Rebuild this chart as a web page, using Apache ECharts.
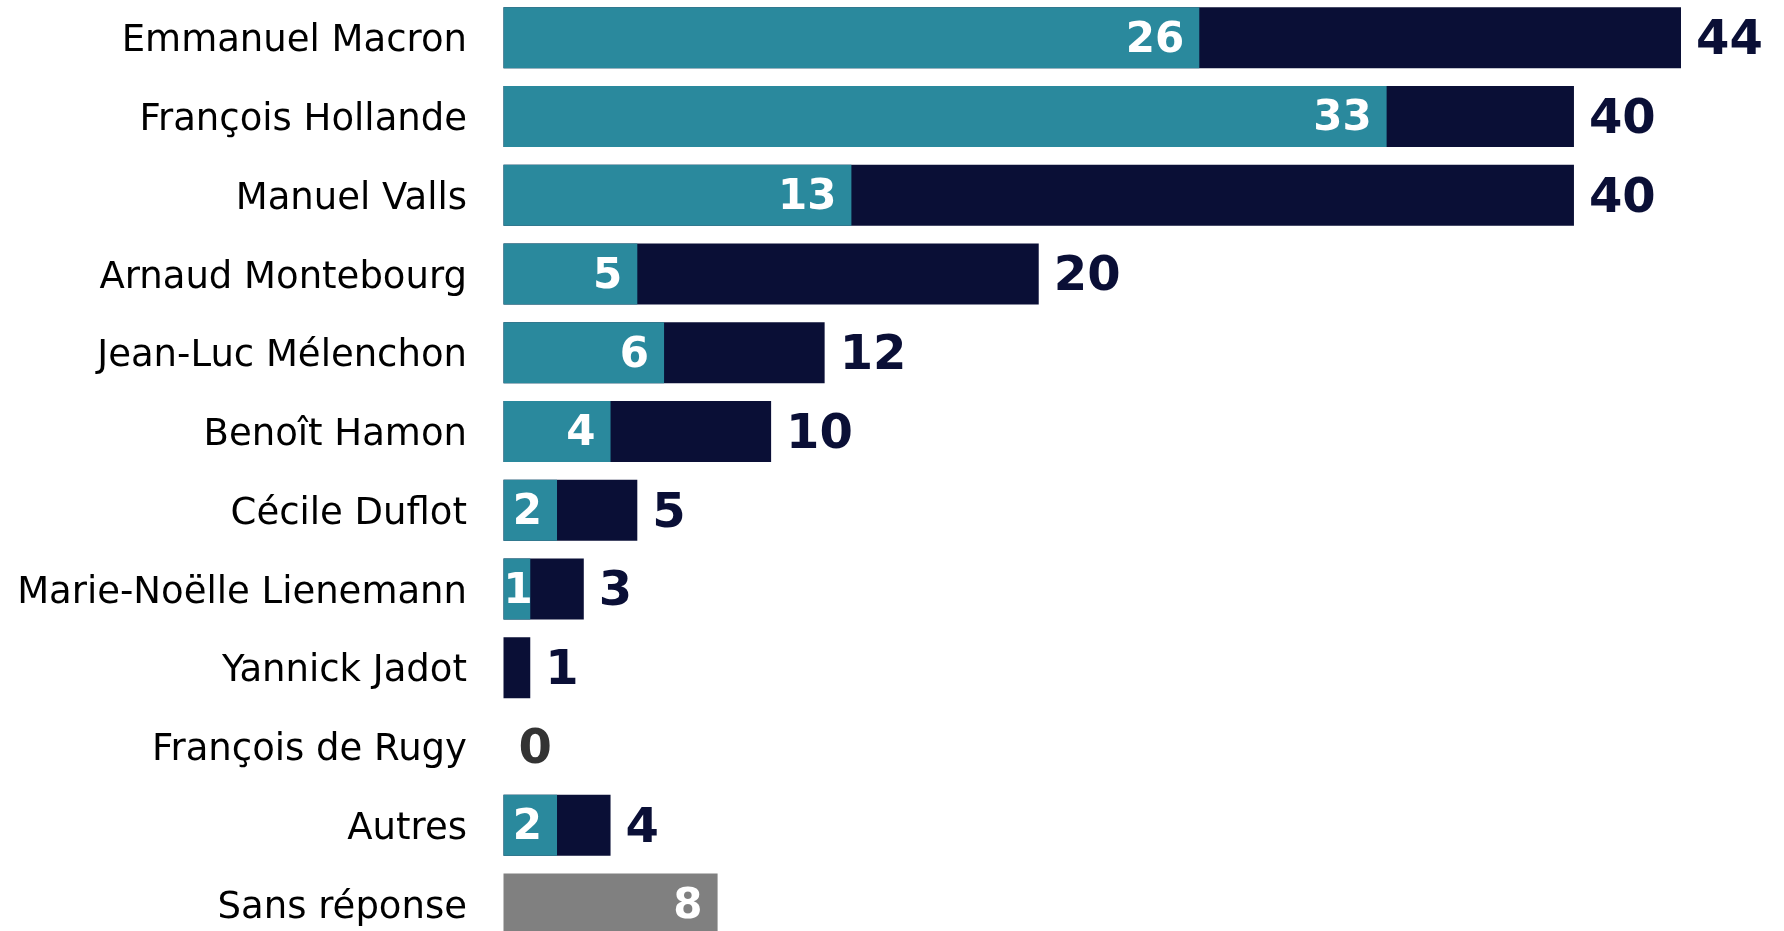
<!DOCTYPE html>
<html>
<head>
<meta charset="utf-8">
<script src="https://cdn.jsdelivr.net/npm/echarts@6/dist/echarts.min.js"></script>
<style>
html,body{margin:0;padding:0;background:#fff;}
#chart{width:1784px;height:931px;}
</style>
</head>
<body>
<div id="chart"></div>
<script>
const categories = ["Emmanuel Macron","François Hollande","Manuel Valls","Arnaud Montebourg","Jean-Luc Mélenchon","Benoît Hamon","Cécile Duflot","Marie-Noëlle Lienemann","Yannick Jadot","François de Rugy","Autres","Sans réponse"];
const totals = [44,40,40,20,12,10,5,3,1,0,4,8];
const firstChoice = [26,33,13,5,6,4,2,1,0,0,2,null];
const noAnswerIndex = 11;

const TEAL = '#2A899D', NAVY = '#0A0F36', GREY = '#808080';
const FONT = 'DejaVu Sans';

const totalData = totals.map((v, i) => {
  if (i === noAnswerIndex) {
    return { value: v, itemStyle: { color: GREY },
      label: { position: 'insideRight', distance: 15, color: '#fff', fontSize: 42, offset: [0, 3] } };
  }
  if (v === 0) return { value: v, label: { color: '#333333' } };
  return v;
});
const tealData = firstChoice.map(v => {
  if (v === null) return null;
  if (v === 0) return { value: v, label: { show: false } };
  if (v <= 1) return { value: v, label: { position: 'insideLeft', distance: 0 } };
  return v;
});

const chart = echarts.init(document.getElementById('chart'), null, {renderer: 'canvas'});
chart.setOption({
  animation: false,
  backgroundColor: '#fff',
  grid: { left: 503.5, top: -1.7, width: 1177.5, height: 945, containLabel: false, outerBoundsMode: 'none' },
  xAxis: { type: 'value', min: 0, max: 44, show: false, splitLine: { show: false } },
  yAxis: {
    type: 'category', data: categories, inverse: true,
    axisLine: { show: false }, axisTick: { show: false },
    axisLabel: {
      color: '#000', fontFamily: FONT, fontSize: 37, margin: 36.5,
      formatter: v => '{n|' + v + '}',
      rich: { n: { color: '#000', fontFamily: FONT, fontSize: 37, padding: [8, 0, 0, 0] } }
    }
  },
  series: [
    {
      type: 'bar', name: 'total', data: totalData, barWidth: 61,
      itemStyle: { color: NAVY },
      label: { show: true, position: 'right', distance: 15, color: NAVY, offset: [0, 4],
        fontFamily: FONT, fontWeight: 'bold', fontSize: 48 }
    },
    {
      type: 'bar', name: 'first', data: tealData, barWidth: 61, barGap: '-100%',
      itemStyle: { color: TEAL },
      label: { show: true, position: 'insideRight', distance: 15, color: '#fff', offset: [0, 3],
        fontFamily: FONT, fontWeight: 'bold', fontSize: 42 }
    }
  ]
});
</script>
</body>
</html>
